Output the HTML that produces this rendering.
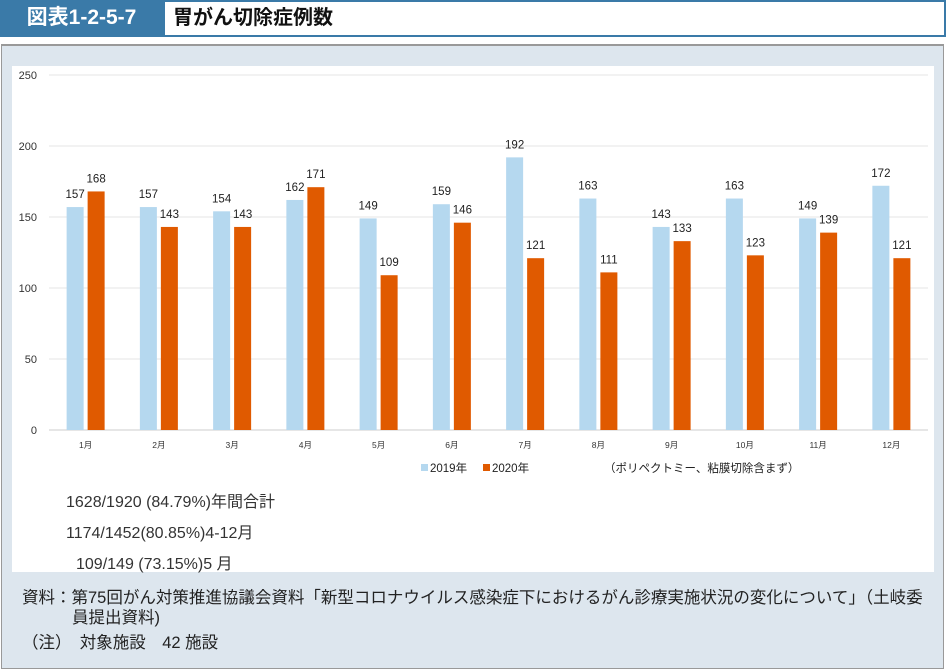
<!DOCTYPE html>
<html><head><meta charset="utf-8">
<style>
body{margin:0;width:946px;height:669px;background:#fff;font-family:"Liberation Sans","Noto Sans CJK JP",sans-serif;position:relative;overflow:hidden}
.abs{position:absolute}
</style></head><body>
<div class="abs" style="left:0;top:0;width:946px;height:37px;background:#3a7aa8"></div>
<div class="abs" style="left:0;top:0;width:163px;height:35px;color:#fff;font-weight:bold;font-size:21px;line-height:35px;text-align:center">図表1-2-5-7</div>
<div class="abs" style="left:165px;top:2px;width:779px;height:33px;background:#fff"></div>
<div class="abs" style="left:173px;top:2px;height:33px;line-height:33px;font-size:20px;font-weight:bold;color:#111">胃がん切除症例数</div>
<div class="abs" style="left:1px;top:44px;width:941px;height:622px;background:#dde6ee;border:1px solid #999;border-top:2px solid #999"></div>
<div class="abs" style="left:12px;top:66px;width:922px;height:506px;background:#fff"></div>
<svg class="abs" id="chart" style="left:0;top:0" width="946" height="669"></svg>
<div class="abs" style="left:66px;top:488px;font-size:16px;color:#333">1628/1920 (84.79%)年間合計</div>
<div class="abs" style="left:66px;top:519px;font-size:16px;color:#333">1174/1452(80.85%)4-12月</div>
<div class="abs" style="left:76px;top:550px;font-size:16px;color:#333">109/149 (73.15%)5 月</div>
<div class="abs" style="left:22px;top:588px;font-size:16.5px;color:#222;line-height:20px;width:920px;white-space:nowrap">資料：第75回がん対策推進協議会資料「新型コロナウイルス感染症下におけるがん診療実施状況の変化について」（土岐委<br><span style="padding-left:50px">員提出資料)</span></div>
<div class="abs" style="left:22px;top:629px;font-size:16.5px;color:#222">（注）　対象施設　42 施設</div>
<script>
const categories=["1月","2月","3月","4月","5月","6月","7月","8月","9月","10月","11月","12月"];
const series2019=[157,157,154,162,149,159,192,163,143,163,149,172];
const series2020=[168,143,143,171,109,146,121,111,133,123,139,121];
const yTicks=[0,50,100,150,200,250];
const NS="http://www.w3.org/2000/svg";
const svg=document.getElementById('chart');
const x0=49,x1=928,y0=430,yTop=75,yMax=250;
const band=(x1-x0)/categories.length;
const y=v=>y0-(v/yMax)*(y0-yTop);
const xc=i=>x0+band*(i+0.5);
function mk(t,a){const e=document.createElementNS(NS,t);for(const k in a)e.setAttribute(k,a[k]);svg.appendChild(e);return e;}
yTicks.forEach(t=>{
  const l=mk('line',{x1:x0,x2:x1,y1:y(t),y2:y(t),stroke:t===0?'#e6e6e6':'#eeeeee','stroke-width':t===0?2:1.5});
  
  
  const tx=mk('text',{x:37,y:y(t)+4,'text-anchor':'end','font-size':11,fill:'#333'});
  tx.textContent=t;
  
  
});
const bw=17;
categories.forEach((c,i)=>{
  const cx=xc(i);
  const b1=mk('rect',{x:cx-bw-2,y:y(series2019[i]),width:bw,height:y0-y(series2019[i]),fill:'#b5d8ef'});
  
  
  const b2=mk('rect',{x:cx+2,y:y(series2020[i]),width:bw,height:y0-y(series2020[i]),fill:'#e05a00'});
  
  
  const l1=mk('text',{x:cx-bw/2-2,y:y(series2019[i])-9,'text-anchor':'middle','font-size':11.5,fill:'#222'});
  l1.textContent=series2019[i];
  
  
  const l2=mk('text',{x:cx+bw/2+2,y:y(series2020[i])-9,'text-anchor':'middle','font-size':11.5,fill:'#222'});
  l2.textContent=series2020[i];
  
  
  const xl=mk('text',{x:cx,y:448,'text-anchor':'middle','font-size':8.5,fill:'#333'});
  xl.textContent=c;
  
  
});
const lg1=mk('rect',{x:421,y:464,width:7,height:7,fill:'#b5d8ef'});


const lt1=mk('text',{x:430,y:472,'font-size':11.5,fill:'#222'});lt1.textContent='2019年';


const lg2=mk('rect',{x:483,y:464,width:7,height:7,fill:'#e05a00'});


const lt2=mk('text',{x:492,y:472,'font-size':11.5,fill:'#222'});lt2.textContent='2020年';


const nt=mk('text',{x:604,y:472,'font-size':11.5,fill:'#222'});nt.textContent='（ポリペクトミー、粘膜切除含まず）';


</script>
</body></html>
